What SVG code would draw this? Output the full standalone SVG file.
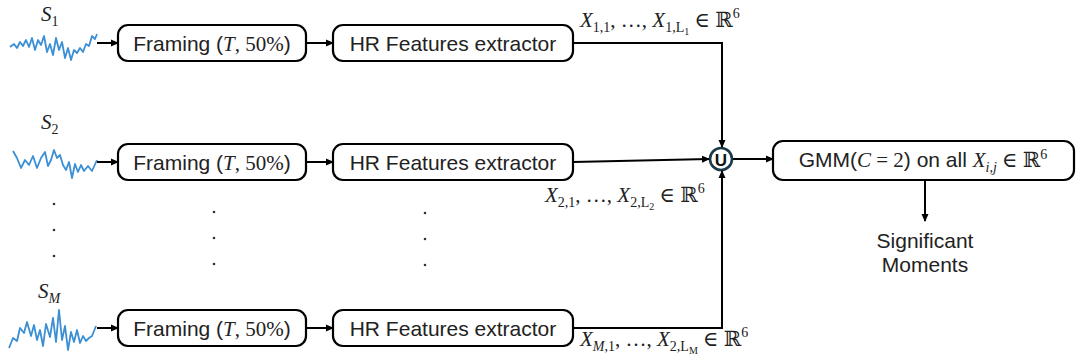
<svg xmlns="http://www.w3.org/2000/svg" width="1080" height="363" viewBox="0 0 1080 363">
<defs>
<marker id="ah" markerWidth="8" markerHeight="8" refX="7" refY="4" orient="auto" markerUnits="userSpaceOnUse">
<path d="M0,0.5 L8,4 L0,7.5 Z" fill="#000"/>
</marker>
<style>
.box{fill:#fff;stroke:#000;stroke-width:2.2}
.lbl{font-family:"Liberation Sans",Arial,sans-serif;font-size:21px;fill:#222}
.m{font-family:"Liberation Serif","DejaVu Serif",serif;font-size:21px;fill:#222}
.mi{font-style:italic}
.sub{font-size:14px}
.wave{fill:none;stroke:#3b8fd4;stroke-width:1.8;stroke-linejoin:round}
.conn{fill:none;stroke:#000;stroke-width:2}
.dot{fill:#333}
</style>
</defs>
<g id="signals">
<text class="m mi" x="41" y="21" font-size="23">S<tspan class="sub" dy="5" font-style="normal">1</tspan></text>
<polyline class="wave" points="10,47 14,44 17,48 20,42 23,46 26,40 29,47 32,38 35,50 38,40 41,45 44,36 47,52 50,44 53,55 56,38 59,50 62,42 65,58 68,48 71,60 74,50 77,53 80,48 83,52 86,44 89,46 92,36 95,39 97,34"/>
<text class="m mi" x="41" y="129" font-size="23">S<tspan class="sub" dy="5" font-style="normal">2</tspan></text>
<polyline class="wave" points="13,151 17,158 21,168 25,160 29,165 33,156 37,168 41,158 45,152 48,166 51,160 54,150 57,158 60,155 63,165 66,170 69,162 72,178 75,164 78,172 81,165 84,171 88,166 92,171 97,160"/>
<text class="m mi" x="38" y="298" font-size="23">S<tspan class="sub" dy="5">M</tspan></text>
<polyline class="wave" points="9,348 13,338 17,341 20,328 24,333 27,322 31,336 34,325 37,340 40,330 43,346 46,324 50,337 53,318 56,342 59,310 62,340 65,326 68,350 71,332 74,342 77,330 80,343 83,336 86,341 89,338 92,336 96,326"/>
</g>
<g id="framing1"><rect class="box" x="118" y="25" width="188" height="36" rx="10"/><text class="lbl" x="212" y="50.5" text-anchor="middle">Framing (<tspan class="m mi">T</tspan><tspan class="m">, 50%</tspan>)</text></g>
<g id="framing2"><rect class="box" x="118" y="144" width="188" height="36" rx="10"/><text class="lbl" x="212" y="169.5" text-anchor="middle">Framing (<tspan class="m mi">T</tspan><tspan class="m">, 50%</tspan>)</text></g>
<g id="framingM"><rect class="box" x="118" y="310" width="188" height="36" rx="10"/><text class="lbl" x="212" y="335.5" text-anchor="middle">Framing (<tspan class="m mi">T</tspan><tspan class="m">, 50%</tspan>)</text></g>
<g id="hr1"><rect class="box" x="333" y="25" width="240" height="36" rx="10"/><text class="lbl" x="453" y="50.5" text-anchor="middle">HR Features extractor</text></g>
<g id="hr2"><rect class="box" x="333" y="144" width="240" height="36" rx="10"/><text class="lbl" x="453" y="169.5" text-anchor="middle">HR Features extractor</text></g>
<g id="hrM"><rect class="box" x="333" y="310" width="240" height="36" rx="10"/><text class="lbl" x="453" y="335.5" text-anchor="middle">HR Features extractor</text></g>
<g id="union"><circle cx="721" cy="159" r="11" fill="#fff" stroke="#1c3a4a" stroke-width="2.6"/><text x="721" y="165.5" text-anchor="middle" font-family="Liberation Sans,Arial,sans-serif" font-weight="bold" font-size="17" fill="#111">U</text></g>
<g id="gmm"><rect class="box" x="773" y="141" width="301" height="39" rx="10"/><text class="lbl" x="923" y="167" text-anchor="middle">GMM(<tspan class="m mi">C</tspan><tspan class="m"> = 2</tspan>) on all <tspan class="m mi">X</tspan><tspan class="m mi sub" dy="5">i,j</tspan><tspan class="m" dy="-5"> ∈ ℝ</tspan><tspan class="m sub" dy="-8">6</tspan></text></g>
<g id="output"><text class="lbl" x="925" y="248" text-anchor="middle">Significant</text><text class="lbl" x="925" y="272" text-anchor="middle">Moments</text></g>
<g id="connectors">
<line class="conn" x1="97" y1="43" x2="118" y2="43" marker-end="url(#ah)"/>
<line class="conn" x1="97" y1="162" x2="118" y2="162" marker-end="url(#ah)"/>
<line class="conn" x1="97" y1="328" x2="118" y2="328" marker-end="url(#ah)"/>
<line class="conn" x1="306" y1="43" x2="333" y2="43" marker-end="url(#ah)"/>
<line class="conn" x1="306" y1="162" x2="333" y2="162" marker-end="url(#ah)"/>
<line class="conn" x1="306" y1="328" x2="333" y2="328" marker-end="url(#ah)"/>
<polyline class="conn" points="573,43 722,43 722,147" marker-end="url(#ah)"/>
<line class="conn" x1="573" y1="162" x2="709" y2="159" marker-end="url(#ah)"/>
<polyline class="conn" points="573,328 722,328 722,171" marker-end="url(#ah)"/>
<line class="conn" x1="733" y1="159" x2="773" y2="159" marker-end="url(#ah)"/>
<line class="conn" x1="925" y1="180" x2="925" y2="221" marker-end="url(#ah)"/>
</g>
<g id="labels">
<text class="m" x="580" y="27"><tspan class="mi">X</tspan><tspan class="sub" dy="5">1,1</tspan><tspan dy="-5">, …, </tspan><tspan class="mi">X</tspan><tspan class="sub" dy="5">1,L</tspan><tspan font-size="10" dy="3">1</tspan><tspan dy="-8"> ∈ ℝ</tspan><tspan class="sub" dy="-9">6</tspan></text>
<text class="m" x="545" y="202"><tspan class="mi">X</tspan><tspan class="sub" dy="5">2,1</tspan><tspan dy="-5">, …, </tspan><tspan class="mi">X</tspan><tspan class="sub" dy="5">2,L</tspan><tspan font-size="10" dy="3">2</tspan><tspan dy="-8"> ∈ ℝ</tspan><tspan class="sub" dy="-9">6</tspan></text>
<text class="m" x="580" y="346"><tspan class="mi">X</tspan><tspan class="sub mi" dy="5">M</tspan><tspan class="sub">,1</tspan><tspan dy="-5">, …, </tspan><tspan class="mi">X</tspan><tspan class="sub" dy="5">2,L</tspan><tspan font-size="10" dy="3">M</tspan><tspan dy="-8"> ∈ ℝ</tspan><tspan class="sub" dy="-9">6</tspan></text>
</g>
<g id="ellipsis">
<circle class="dot" cx="54" cy="204" r="1.3"/><circle class="dot" cx="54" cy="230" r="1.3"/><circle class="dot" cx="54" cy="256" r="1.3"/>
<circle class="dot" cx="214" cy="212" r="1.3"/><circle class="dot" cx="214" cy="238" r="1.3"/><circle class="dot" cx="214" cy="264" r="1.3"/>
<circle class="dot" cx="425" cy="213" r="1.3"/><circle class="dot" cx="425" cy="239" r="1.3"/><circle class="dot" cx="425" cy="265" r="1.3"/>
</g>
</svg>
